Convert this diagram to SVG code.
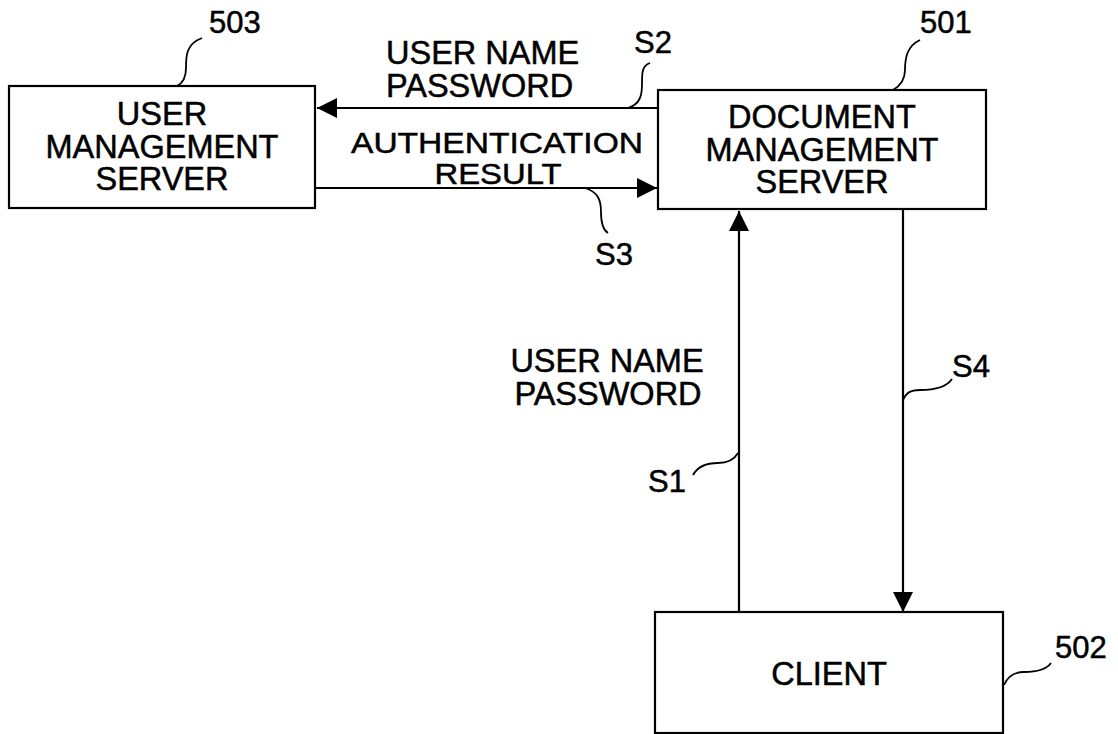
<svg xmlns="http://www.w3.org/2000/svg" width="1118" height="734" viewBox="0 0 1118 734">
<style>
text{font-family:"Liberation Sans",Arial,sans-serif;font-size:32.5px;fill:#000;stroke:#000;stroke-width:0.5}
.c{text-anchor:middle}
.n{font-size:31px}
.t{font-size:30px}
.box{fill:#fff;stroke:#000;stroke-width:2.2}
.ln{fill:none;stroke:#000;stroke-width:2.2}
.ld{fill:none;stroke:#000;stroke-width:1.8}
</style>
<defs>
<marker id="ah" viewBox="0 0 20 20" refX="20" refY="10" markerWidth="20" markerHeight="20" markerUnits="userSpaceOnUse" orient="auto">
<path d="M0,0 L20,10 L0,20 Z" fill="#000"/>
</marker>
</defs>
<rect width="1118" height="734" fill="#fff"/>
<g id="node-503">
<rect class="box" x="9" y="86" width="306" height="122"/>
<text class="c" x="162" y="125">USER</text>
<text class="c" x="162" y="157.5">MANAGEMENT</text>
<text class="c" x="162" y="190">SERVER</text>
<path class="ld" d="M177,86 C183,83 186,78 186,68 C186,56 186,44 202,38"/>
<text class="n" x="209" y="33">503</text>
</g>
<g id="node-501">
<rect class="box" x="658" y="90" width="328" height="119"/>
<text class="c" x="822" y="128">DOCUMENT</text>
<text class="c" x="822" y="160.5">MANAGEMENT</text>
<text class="c" x="822" y="193">SERVER</text>
<path class="ld" d="M893,90 C900,86 905,80 905,70 C905,58 907,46 920,40"/>
<text class="n" x="920" y="33">501</text>
</g>
<g id="node-502">
<rect class="box" x="655" y="612" width="348" height="121"/>
<text class="c" x="829" y="685">CLIENT</text>
<path class="ld" d="M1004,685 C1008,676 1014,672 1024,672 C1036,672 1046,670 1051,663"/>
<text class="n" x="1055" y="658">502</text>
</g>
<g id="connectors">
<line class="ln" x1="658" y1="108" x2="317" y2="108" marker-end="url(#ah)"/>
<line class="ln" x1="315" y1="188" x2="657" y2="188" marker-end="url(#ah)"/>
<line class="ln" x1="739" y1="612" x2="739" y2="211" marker-end="url(#ah)"/>
<line class="ln" x1="903" y1="209" x2="903" y2="612" marker-end="url(#ah)"/>
</g>
<g id="labels">
<text x="386" y="64">USER NAME</text>
<text x="386" y="97">PASSWORD</text>
<text class="c t" x="497" y="152.5" textLength="292" lengthAdjust="spacingAndGlyphs">AUTHENTICATION</text>
<text class="c t" x="498" y="184" textLength="127" lengthAdjust="spacingAndGlyphs">RESULT</text>
<text class="n" x="634" y="53">S2</text>
<path class="ld" d="M628,108 C640,104 642,96 642,84 C642,72 642,66 650,63"/>
<text class="n" x="595" y="265">S3</text>
<path class="ld" d="M585,188 C598,192 601,200 601,212 C601,224 603,230 608,233"/>
<text class="c" x="607" y="371.5">USER NAME</text>
<text class="c" x="608" y="404.5">PASSWORD</text>
<text class="n" x="648" y="492">S1</text>
<path class="ld" d="M738,453 C734,460 728,463 718,463 C706,463 698,466 693,475"/>
<text class="n" x="952" y="377">S4</text>
<path class="ld" d="M903,400 C906,393 910,390 920,390 C932,390 946,388 952,379"/>
</g>
</svg>
